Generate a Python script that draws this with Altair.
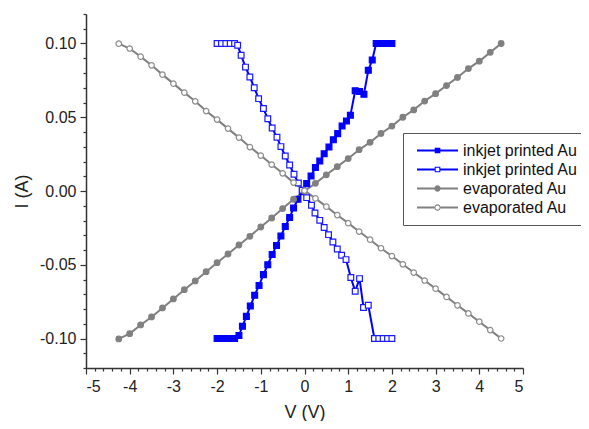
import altair as alt
import pandas as pd

# ---- data ----
series_keys = ["ink_filled", "ink_open", "evap_filled", "evap_open"]
series_labels = ["inkjet printed Au", "inkjet printed Au", "evaporated Au", "evaporated Au"]

ink_filled_v = [-2.0, -1.9, -1.8, -1.7, -1.6, -1.5, -1.42, -1.33, -1.24, -1.14, -1.04, -0.94, -0.84, -0.74,
                -0.64, -0.54, -0.44, -0.34, -0.25, -0.15, -0.05, 0.05, 0.15, 0.25, 0.35, 0.45, 0.56, 0.66,
                0.76, 0.86, 0.96, 1.05, 1.16, 1.26, 1.36, 1.46, 1.55, 1.64, 1.73, 1.82, 1.91, 2.0]
ink_filled_i = [-0.100, -0.100, -0.100, -0.100, -0.100, -0.098, -0.0917, -0.085, -0.078, -0.0707, -0.064,
                -0.0567, -0.050, -0.043, -0.037, -0.0305, -0.024, -0.018, -0.0115, -0.0056, -0.0005, 0.005,
                0.0102, 0.0159, 0.0203, 0.0253, 0.0298, 0.0348, 0.0389, 0.0441, 0.0475, 0.0513, 0.068,
                0.0674, 0.0656, 0.0818, 0.0888, 0.100, 0.100, 0.100, 0.100, 0.100]

ink_open_v = [-2.0, -1.9, -1.8, -1.7, -1.6, -1.53, -1.45, -1.35, -1.25, -1.15, -1.05, -0.94, -0.84, -0.74,
              -0.63, -0.54, -0.44, -0.34, -0.24, -0.14, -0.05, 0.05, 0.16, 0.24, 0.35, 0.45, 0.55, 0.65,
              0.75, 0.85, 0.95, 1.06, 1.16, 1.26, 1.35, 1.46, 1.6, 1.7, 1.8, 1.9, 2.0]
ink_open_i = [0.100, 0.100, 0.100, 0.100, 0.100, 0.0988, 0.092, 0.084, 0.0773, 0.070, 0.0626, 0.0559,
              0.049, 0.0427, 0.0364, 0.0301, 0.0237, 0.0176, 0.0113, 0.0054, 0.0005, -0.0045, -0.0097,
              -0.0149, -0.0199, -0.0248, -0.0296, -0.0346, -0.0393, -0.0436, -0.0465, -0.0587, -0.068,
              -0.0594, -0.079, -0.0775, -0.100, -0.100, -0.100, -0.100, -0.100]

evap_v = [-4.25, -4.0, -3.75, -3.5, -3.25, -3.0, -2.75, -2.5, -2.25, -2.0, -1.75, -1.5, -1.25, -1.0,
          -0.75, -0.5, -0.25, 0.0, 0.25, 0.5, 0.75, 1.0, 1.25, 1.5, 1.75, 2.0, 2.25, 2.5, 2.75, 3.0,
          3.25, 3.5, 3.75, 4.0, 4.25, 4.5]
evap_filled_i = [-0.1003, -0.0967, -0.0908, -0.0854, -0.0793, -0.0732, -0.0669, -0.0610, -0.0547, -0.0486,
                 -0.0427, -0.0366, -0.0307, -0.0244, -0.0183, -0.0119, -0.0056, 0.0000, 0.0052, 0.0110,
                 0.0165, 0.0220, 0.0280, 0.0330, 0.0390, 0.0440, 0.0500, 0.0550, 0.0610, 0.0660, 0.0715,
                 0.0770, 0.0830, 0.0880, 0.0940, 0.1000]
evap_open_i = [0.0999, 0.0966, 0.0911, 0.0852, 0.0789, 0.0728, 0.0667, 0.0608, 0.0542, 0.0484, 0.0423,
               0.0362, 0.0298, 0.0240, 0.0179, 0.0120, 0.0057, 0.0003, -0.0050, -0.0106, -0.0163, -0.0218,
               -0.0275, -0.0330, -0.0388, -0.0441, -0.0497, -0.0553, -0.0607, -0.0662, -0.0718, -0.0775,
               -0.0830, -0.0886, -0.0943, -0.1000]

x_major = [-5, -4, -3, -2, -1, 0, 1, 2, 3, 4, 5]
y_major = [-0.10, -0.05, 0.00, 0.05, 0.10]
x_minor = [round(-5 + 0.2 * k, 2) for k in range(51) if k % 5 != 0]
y_minor = [round(-0.12 + 0.01 * k, 2) for k in range(25) if (k - 2) % 5 != 0]

rows = []
for key, vs, cs in [("ink_filled", ink_filled_v, ink_filled_i), ("ink_open", ink_open_v, ink_open_i),
                    ("evap_filled", evap_v, evap_filled_i), ("evap_open", evap_v, evap_open_i)]:
    for n, (v, c) in enumerate(zip(vs, cs)):
        rows.append({"series": key, "V": v, "I": c, "idx": n})
df = pd.DataFrame(rows)

# ---- styles ----
BLUE = "#0000ff"
GREY = "#808080"
FONT = "Liberation Sans"
line_colors = [BLUE, BLUE, GREY, GREY]
line_widths = [2, 2, 1.8, 1.8]
shapes = ["square", "square", "circle", "circle"]
fills = [BLUE, "#ffffff", GREY, "#ffffff"]
strokes = [BLUE, "#1a1aff", GREY, "#8c8c8c"]
sizes = [34, 30, 38, 34]

# legend symbol paths (unit = 7px with symbolSize 196)
L = 2.93
t = 0.15
sq_f = f"M-{L},-{t}H{L}V{t}H-{L}Z M-0.4,-0.4H0.4V0.4H-0.4Z"
sq_o = (f"M-{L},-{t}H-0.4V{t}H-{L}Z M0.4,-{t}H{L}V{t}H0.4Z "
        "M-0.4,-0.4H0.4V0.4H-0.4Z M-0.26,-0.26V0.26H0.26V-0.26Z")
ci_f = f"M-{L},-{t}H{L}V{t}H-{L}Z M0.45,0A0.45,0.45 0 1,1 -0.45,0A0.45,0.45 0 1,1 0.45,0Z"
ci_o = (f"M-{L},-{t}H-0.45V{t}H-{L}Z M0.45,-{t}H{L}V{t}H0.45Z "
        "M0.45,0A0.45,0.45 0 1,1 -0.45,0A0.45,0.45 0 1,1 0.45,0Z M0.3,0A0.3,0.3 0 1,0 -0.3,0A0.3,0.3 0 1,0 0.3,0Z")
legend_paths = [sq_f, sq_o, ci_f, ci_o]

label_expr = " : ".join(
    [f"datum.label == '{k}' ? '{l}'" for k, l in zip(series_keys, series_labels)]) + " : datum.label"

x_scale = alt.Scale(domain=[-5, 5], nice=False, zero=False)
y_scale = alt.Scale(domain=[-0.12, 0.12], nice=False, zero=False)

axis_common = dict(domainColor="#333333", tickColor="#333333", domainWidth=1.5, tickWidth=1.2,
                   grid=False, labelFont=FONT, labelColor="#222222", titleFont=FONT,
                   titleColor="#222222", titleFontWeight="normal")

x_axis_major = alt.Axis(values=x_major, orient="bottom", tickSize=6, labelFontSize=16, labelPadding=4,
                        title="V (V)", titleFontSize=18, titlePadding=9,
                        labelExpr="datum.value < 0 ? '-' + format(-datum.value, 'd') : format(datum.value, 'd')",
                        **axis_common)
y_axis_major = alt.Axis(values=y_major, orient="left", tickSize=6, labelFontSize=16, labelPadding=4,
                        title="I (A)", titleFontSize=18, titlePadding=8,
                        labelExpr="datum.value < 0 ? '-' + format(-datum.value, '.2f') : format(datum.value, '.2f')",
                        **axis_common)
x_axis_minor = alt.Axis(values=x_minor, orient="bottom", tickSize=3, labels=False, domain=False,
                        title=None, grid=False, tickColor="#333333", tickWidth=1.2)
y_axis_minor = alt.Axis(values=y_minor, orient="left", tickSize=3, labels=False, domain=False,
                        title=None, grid=False, tickColor="#333333", tickWidth=1.2)

lines = alt.Chart(df).mark_line().encode(
    x=alt.X("V:Q", scale=x_scale, axis=x_axis_major),
    y=alt.Y("I:Q", scale=y_scale, axis=y_axis_major),
    color=alt.Color("series:N", scale=alt.Scale(domain=series_keys, range=line_colors), legend=None),
    strokeWidth=alt.StrokeWidth("series:N", scale=alt.Scale(domain=series_keys, range=line_widths), legend=None),
    order="idx:Q",
)

points = alt.Chart(df).mark_point(filled=True, opacity=1, strokeWidth=1.2).encode(
    x=alt.X("V:Q", scale=x_scale, axis=x_axis_minor),
    y=alt.Y("I:Q", scale=y_scale, axis=y_axis_minor),
    shape=alt.Shape("series:N", scale=alt.Scale(domain=series_keys, range=shapes), legend=None),
    fill=alt.Fill("series:N", scale=alt.Scale(domain=series_keys, range=fills), legend=None),
    stroke=alt.Stroke("series:N", scale=alt.Scale(domain=series_keys, range=strokes), legend=None),
    size=alt.Size("series:N", scale=alt.Scale(domain=series_keys, range=sizes), legend=None),
)

legend_def = alt.Legend(title=None, orient="none", legendX=317, legendY=119, padding=8,
                        strokeColor="#555555", fillColor="#ffffff", labelFont=FONT, labelFontSize=16,
                        labelColor="#111111", symbolSize=196, symbolStrokeWidth=0, symbolOffset=18.5,
                        labelOffset=17.5, rowPadding=0, clipHeight=19, labelExpr=label_expr)

legend_layer = alt.Chart(df).transform_filter("false").mark_point(filled=True, opacity=1, size=196).encode(
    shape=alt.Shape("series:N", scale=alt.Scale(domain=series_keys, range=legend_paths), legend=legend_def),
    color=alt.Color("series:N", scale=alt.Scale(domain=series_keys, range=line_colors), legend=legend_def),
)

chart = alt.layer(lines, points, legend_layer).resolve_scale(
    color="independent", shape="independent", fill="independent", stroke="independent", size="independent"
).resolve_axis(x="independent", y="independent").properties(
    width=437, height=354, autosize=alt.AutoSizeParams(type="none"),
    padding={"left": 78, "top": 6, "right": 58, "bottom": 53},
).configure_view(stroke=None)

chart.save("out.html", embed_options={"renderer": "svg", "actions": False})
